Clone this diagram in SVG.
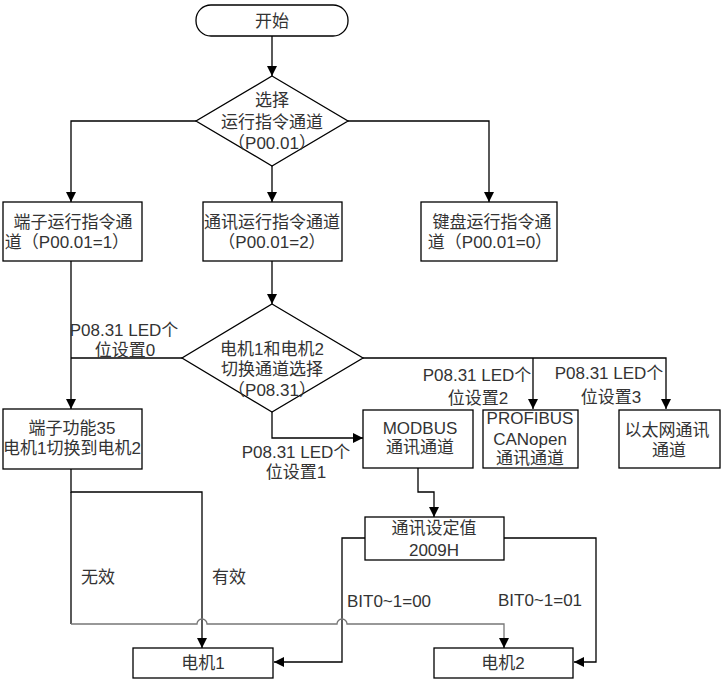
<svg xmlns="http://www.w3.org/2000/svg" width="724" height="686" viewBox="0 0 724 686">
<style>
text{font-family:"Liberation Sans","Noto Sans CJK SC",sans-serif;font-size:17px;fill:#333;text-anchor:middle}
.n{fill:#fff;stroke:#000;stroke-width:1.3}
.c{fill:none;stroke:#000;stroke-width:1.3}
.g{fill:none;stroke:#777;stroke-width:1.3}
</style>
<defs>
<marker id="a" viewBox="0 0 10 10" refX="10" refY="5" markerWidth="10" markerHeight="10" markerUnits="userSpaceOnUse" orient="auto">
<path d="M0,0 L10,5 L0,10 Z" fill="#000"/>
</marker>
</defs>
<rect width="724" height="686" fill="#fff"/>
<g id="connectors">
<path class="c" d="M272,36 V76" marker-end="url(#a)"/>
<path class="c" d="M196,121 H71 V202" marker-end="url(#a)"/>
<path class="c" d="M272,166 V202" marker-end="url(#a)"/>
<path class="c" d="M348,121 H489 V202" marker-end="url(#a)"/>
<path class="c" d="M272,261 V304" marker-end="url(#a)"/>
<path class="c" d="M71,261 V409" marker-end="url(#a)"/>
<path class="c" d="M182,358 H71"/>
<path class="c" d="M272,412 V438 H363" marker-end="url(#a)"/>
<path class="c" d="M363,358 H666 V409" marker-end="url(#a)"/>
<path class="c" d="M533,358 V409" marker-end="url(#a)"/>
<path class="c" d="M418,468 V492 H434 V517" marker-end="url(#a)"/>
<path class="c" d="M365,538 H342 V662 H274" marker-end="url(#a)"/>
<path class="c" d="M504,538 H596 V662 H574" marker-end="url(#a)"/>
<path class="c" d="M71,468 V492 H202 V648" marker-end="url(#a)"/>
<path class="c" d="M71,492 V624"/>
<path class="g" d="M71,624 H197 A5,5 0 0 1 207,624 H337 A5,5 0 0 1 347,624 H504 V640"/>
<path class="c" d="M504,638 V648" marker-end="url(#a)"/>
<text x="124" y="336">P08.31 LED个</text>
<text x="125" y="356">位设置0</text>
<text x="296" y="458">P08.31 LED个</text>
<text x="296" y="478">位设置1</text>
<text x="477" y="381">P08.31 LED个</text>
<text x="478" y="404">位设置2</text>
<text x="609" y="379">P08.31 LED个</text>
<text x="611" y="403">位设置3</text>
<text x="98" y="583">无效</text>
<text x="229" y="583">有效</text>
<text x="389" y="607">BIT0~1=00</text>
<text x="540" y="606">BIT0~1=01</text>
</g>
<g id="start">
<rect class="n" x="196" y="5" width="152" height="31" rx="15"/>
<text x="272" y="27">开始</text>
</g>
<g id="d1">
<path class="n" d="M272,76 L348,121 L272,166 L196,121 Z"/>
<text x="272" y="106">选择</text>
<text x="272" y="128">运行指令通道</text>
<text x="272" y="149">（P00.01）</text>
</g>
<g id="boxA">
<rect class="n" x="3" y="202" width="139" height="59"/>
<text x="73" y="228">端子运行指令通</text>
<text x="67" y="248">道（P00.01=1）</text>
</g>
<g id="boxB">
<rect class="n" x="203" y="202" width="139" height="59"/>
<text x="272" y="228">通讯运行指令通道</text>
<text x="272" y="248">（P00.01=2）</text>
</g>
<g id="boxC">
<rect class="n" x="421" y="202" width="136" height="59"/>
<text x="492" y="228">键盘运行指令通</text>
<text x="490" y="248">道（P00.01=0）</text>
</g>
<g id="d2">
<path class="n" d="M272,304 L363,358 L272,412 L182,358 Z"/>
<text x="272" y="355">电机1和电机2</text>
<text x="272" y="375">切换通道选择</text>
<text x="272" y="396">（P08.31）</text>
</g>
<g id="boxD">
<rect class="n" x="3" y="409" width="139" height="60"/>
<text x="72" y="434">端子功能35</text>
<text x="72" y="454">电机1切换到电机2</text>
</g>
<g id="modbus">
<rect class="n" x="363" y="410" width="110" height="58"/>
<text x="420" y="434">MODBUS</text>
<text x="420" y="453">通讯通道</text>
</g>
<g id="profibus">
<rect class="n" x="483" y="410" width="95" height="58"/>
<text x="530" y="424">PROFIBUS</text>
<text x="530" y="445">CANopen</text>
<text x="530" y="464">通讯通道</text>
</g>
<g id="ethernet">
<rect class="n" x="619" y="410" width="101" height="58"/>
<text x="667" y="436">以太网通讯</text>
<text x="669" y="456">通道</text>
</g>
<g id="setval">
<rect class="n" x="365" y="517" width="139" height="43"/>
<text x="434" y="534">通讯设定值</text>
<text x="434" y="556">2009H</text>
</g>
<g id="motor1">
<rect class="n" x="133" y="648" width="140" height="30"/>
<text x="203" y="669">电机1</text>
</g>
<g id="motor2">
<rect class="n" x="434" y="648" width="139" height="30"/>
<text x="503" y="669">电机2</text>
</g>
</svg>
